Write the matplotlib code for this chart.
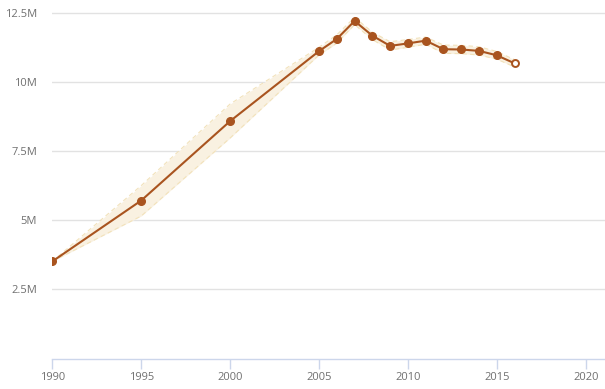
import matplotlib
matplotlib.use("Agg")
import matplotlib.pyplot as plt
from matplotlib.ticker import FixedLocator

years = [1990, 1995, 2000, 2005, 2006, 2007, 2008, 2009, 2010, 2011, 2012, 2013, 2014, 2015, 2016]
values = [3.51, 5.71, 8.58, 11.11, 11.55, 12.20, 11.67, 11.30, 11.39, 11.49, 11.18, 11.17, 11.12, 10.96, 10.67]
upper = [3.51, 6.25, 9.20, 11.25, 11.70, 12.33, 11.80, 11.45, 11.53, 11.62, 11.33, 11.32, 11.27, 11.10, 10.80]
lower = [3.51, 5.15, 7.97, 10.97, 11.40, 12.07, 11.53, 11.15, 11.25, 11.36, 11.03, 11.02, 10.97, 10.82, 10.54]
ytick_vals = [2.5, 5, 7.5, 10, 12.5]
ytick_labels = ["2.5M", "5M", "7.5M", "10M", "12.5M"]
xtick_vals = [1990, 1995, 2000, 2005, 2010, 2015, 2020]

W, H = 605, 389
fig = plt.figure(figsize=(W / 100, H / 100), dpi=100)
px_year = (585.7 - 52.3) / 30
x_left = 52.3
y0 = 358.5
px_m = (y0 - 12.7) / 12.5
ax = fig.add_axes([x_left / W, (H - y0) / H, (W - x_left) / W, y0 / H])
ax.set_xlim(1990, 1990 + (W - x_left) / px_year)
ax.set_ylim(0, 12.5 + 12.7 / px_m)

line_c = "#a9541f"
band_fill = "#f9f1e1"
band_edge = "#f2e2bb"

ax.fill_between(years, lower, upper, color=band_fill, lw=0, zorder=1)
ax.plot(years, upper, color=band_edge, lw=0.8, ls=(0, (4, 3)), zorder=2)
ax.plot(years, lower, color=band_edge, lw=0.8, ls=(0, (4, 3)), zorder=2)
ax.plot(years, values, color=line_c, lw=1.5, zorder=3)
ax.plot(years[:-1], values[:-1], "o", color=line_c, ms=5.5, zorder=4)
ax.plot(years[-1:], values[-1:], "o", mfc="white", mec=line_c, mew=1.4, ms=5, zorder=4)

for v in ytick_vals:
    ax.axhline(v, color="#e2e2e2", lw=1, zorder=0)

for s in ["top", "right", "left"]:
    ax.spines[s].set_visible(False)
ax.spines["bottom"].set_color("#ccd6eb")
ax.spines["bottom"].set_linewidth(1)

ax.yaxis.set_major_locator(FixedLocator(ytick_vals))
ax.set_yticklabels(ytick_labels)
ax.xaxis.set_major_locator(FixedLocator(xtick_vals))
ax.set_xticklabels([str(x) for x in xtick_vals])
ax.tick_params(axis="y", length=0, pad=11, labelsize=8, labelcolor="#707070")
ax.tick_params(axis="x", length=7.5, width=1, color="#ccd6eb", pad=2, labelsize=8, labelcolor="#707070")
for lab in ax.get_xticklabels() + ax.get_yticklabels():
    lab.set_fontfamily("Open Sans")

fig.savefig("out.png", dpi=100)
